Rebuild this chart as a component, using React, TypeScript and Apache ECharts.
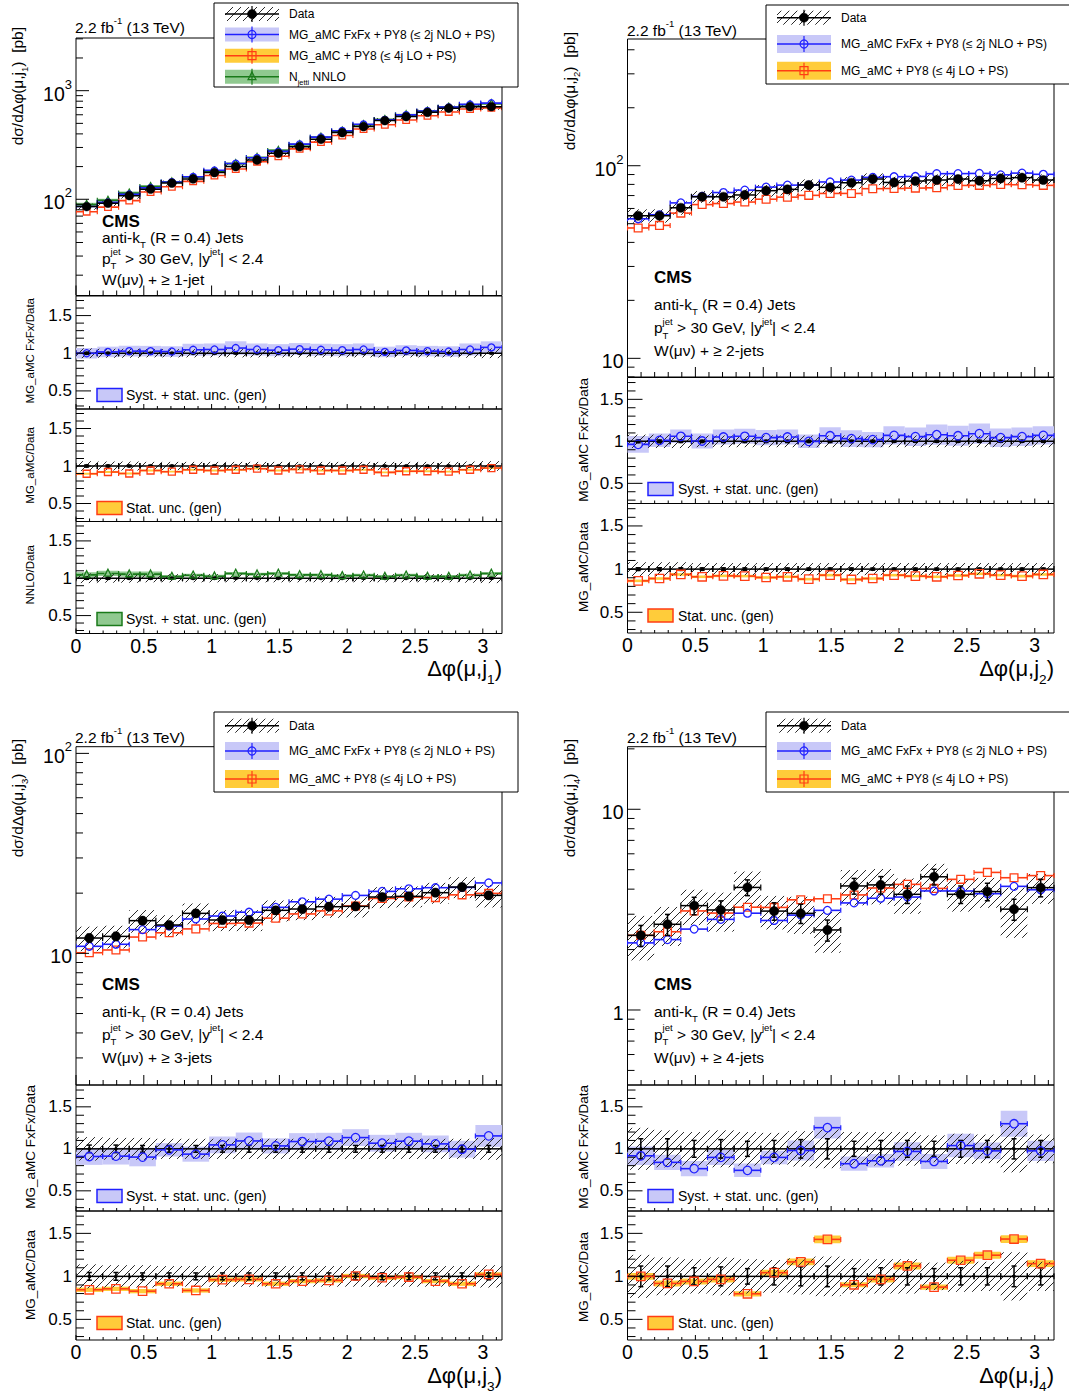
import React, { useEffect, useRef } from 'react';
import * as echarts from 'echarts';

const FONT = '"Liberation Sans", Arial, Helvetica, sans-serif';
const PI = Math.PI;

// ===== Δφ(μ,j1), W(μν) + ≥ 1-jet : 20 bins on [0, π] =====
const j1Data = [85.7, 92, 108, 124, 141, 154, 176, 200, 230, 265, 305, 357, 411, 467, 530, 577, 632, 689, 713, 713];
const j1DataStat = [0.012, 0.012, 0.011, 0.01, 0.01, 0.009, 0.009, 0.008, 0.008, 0.008, 0.007, 0.007, 0.007, 0.006, 0.006, 0.006, 0.006, 0.006, 0.006, 0.006];
const j1DataUnc = [0.065, 0.06, 0.06, 0.055, 0.055, 0.055, 0.055, 0.055, 0.055, 0.055, 0.055, 0.055, 0.055, 0.055, 0.055, 0.055, 0.055, 0.055, 0.06, 0.065];
const j1FxFxRatio = [1.0, 1.018, 1.028, 1.028, 1.023, 1.046, 1.05, 1.069, 1.05, 1.041, 1.055, 1.046, 1.041, 1.05, 1.018, 1.037, 1.028, 1.023, 1.05, 1.078];
const j1FxFxUnc = [0.07, 0.07, 0.07, 0.07, 0.07, 0.08, 0.08, 0.09, 0.08, 0.08, 0.08, 0.08, 0.08, 0.08, 0.07, 0.07, 0.07, 0.07, 0.08, 0.08];
const j1MgRatio = [0.897, 0.92, 0.9, 0.94, 0.924, 0.95, 0.94, 0.95, 0.964, 0.94, 0.955, 0.94, 0.94, 0.95, 0.915, 0.93, 0.93, 0.924, 0.95, 0.973];
const j1MgUnc = [0.012, 0.012, 0.012, 0.012, 0.012, 0.012, 0.012, 0.012, 0.012, 0.012, 0.012, 0.012, 0.012, 0.012, 0.012, 0.012, 0.012, 0.012, 0.012, 0.012];
const j1NnloRatio = [1.045, 1.064, 1.055, 1.055, 1.023, 1.04, 1.027, 1.064, 1.055, 1.064, 1.045, 1.045, 1.032, 1.04, 1.023, 1.04, 1.023, 1.023, 1.04, 1.064];
const j1NnloUnc = [0.035, 0.035, 0.035, 0.035, 0.02, 0.02, 0.02, 0.02, 0.02, 0.02, 0.02, 0.02, 0.02, 0.02, 0.02, 0.02, 0.02, 0.02, 0.02, 0.02];

// ===== Δφ(μ,j2), W(μν) + ≥ 2-jets : 20 bins =====
const j2Data = [55.0, 55.0, 60.5, 69.0, 69.0, 70.5, 74.2, 75.4, 79.4, 77.2, 81.6, 85.3, 81.9, 83.3, 84.3, 85.3, 83.6, 85.9, 86.7, 84.3];
const j2DataStat = [0.016, 0.016, 0.015, 0.014, 0.014, 0.014, 0.013, 0.013, 0.013, 0.013, 0.013, 0.012, 0.012, 0.012, 0.012, 0.012, 0.012, 0.012, 0.012, 0.012];
const j2DataUnc = [0.08, 0.08, 0.08, 0.07, 0.07, 0.07, 0.07, 0.07, 0.07, 0.07, 0.07, 0.07, 0.07, 0.07, 0.07, 0.07, 0.07, 0.07, 0.07, 0.07];
const j2FxFxRatio = [0.964, 1.012, 1.06, 1.004, 1.052, 1.06, 1.044, 1.052, 1.0, 1.067, 1.032, 1.02, 1.071, 1.056, 1.079, 1.067, 1.091, 1.044, 1.056, 1.071];
const j2FxFxUnc = [0.1, 0.08, 0.08, 0.09, 0.09, 0.09, 0.09, 0.09, 0.08, 0.1, 0.1, 0.09, 0.11, 0.11, 0.12, 0.12, 0.12, 0.11, 0.11, 0.11];
const j2MgRatio = [0.864, 0.891, 0.938, 0.911, 0.922, 0.919, 0.903, 0.911, 0.884, 0.93, 0.88, 0.891, 0.93, 0.919, 0.911, 0.926, 0.946, 0.93, 0.919, 0.938];
const j2MgUnc = [0.015, 0.015, 0.015, 0.015, 0.015, 0.015, 0.015, 0.015, 0.015, 0.015, 0.015, 0.015, 0.015, 0.015, 0.015, 0.015, 0.015, 0.015, 0.015, 0.015];

// ===== Δφ(μ,j3), W(μν) + ≥ 3-jets : 16 bins =====
const j3Data = [11.93, 12.16, 14.57, 13.86, 15.85, 14.68, 14.68, 16.41, 16.66, 17.11, 17.18, 19.13, 19.28, 20.11, 21.46, 19.5];
const j3DataStat = [0.045, 0.045, 0.04, 0.04, 0.04, 0.04, 0.04, 0.04, 0.04, 0.04, 0.04, 0.04, 0.04, 0.04, 0.04, 0.04];
const j3DataUnc = [0.14, 0.13, 0.13, 0.12, 0.12, 0.12, 0.12, 0.12, 0.12, 0.12, 0.12, 0.12, 0.12, 0.12, 0.12, 0.13];
const j3FxFxRatio = [0.909, 0.913, 0.902, 0.988, 0.937, 1.047, 1.094, 1.035, 1.087, 1.091, 1.134, 1.067, 1.091, 1.059, 0.996, 1.154];
const j3FxFxUnc = [0.1, 0.1, 0.11, 0.08, 0.09, 0.1, 0.1, 0.09, 0.1, 0.1, 0.1, 0.1, 0.1, 0.1, 0.1, 0.13];
const j3MgRatio = [0.844, 0.855, 0.828, 0.914, 0.836, 0.961, 0.965, 0.914, 0.945, 0.953, 1.004, 0.984, 0.992, 0.945, 0.914, 1.023];
const j3MgUnc = [0.025, 0.025, 0.025, 0.025, 0.025, 0.025, 0.025, 0.025, 0.025, 0.025, 0.025, 0.025, 0.025, 0.025, 0.025, 0.025];

// ===== Δφ(μ,j4), W(μν) + ≥ 4-jets : 16 bins =====
const j4Data = [2.355, 2.673, 3.311, 3.15, 4.08, 3.11, 3.03, 2.505, 4.15, 4.2, 3.77, 4.61, 3.77, 3.89, 3.18, 4.07];
const j4DataStat = [0.12, 0.12, 0.1, 0.11, 0.09, 0.1, 0.11, 0.12, 0.09, 0.1, 0.1, 0.09, 0.1, 0.1, 0.12, 0.1];
const j4DataUnc = [0.25, 0.22, 0.2, 0.22, 0.2, 0.19, 0.21, 0.23, 0.2, 0.2, 0.2, 0.16, 0.18, 0.17, 0.28, 0.17];
const j4FxFxRatio = [0.917, 0.839, 0.764, 0.898, 0.744, 0.898, 0.98, 1.252, 0.823, 0.858, 0.969, 0.85, 1.039, 0.976, 1.299, 0.976];
const j4FxFxUnc = [0.11, 0.09, 0.09, 0.09, 0.08, 0.08, 0.12, 0.13, 0.085, 0.08, 0.11, 0.09, 0.14, 0.1, 0.155, 0.12];
const j4MgRatio = [1.0, 0.918, 0.941, 0.965, 0.797, 1.043, 1.168, 1.43, 0.902, 0.965, 1.121, 0.875, 1.1875, 1.246, 1.434, 1.148];
const j4MgUnc = [0.04, 0.035, 0.035, 0.035, 0.03, 0.035, 0.04, 0.045, 0.03, 0.035, 0.04, 0.03, 0.04, 0.04, 0.045, 0.04];

const X_LABELS = [0, 0.5, 1, 1.5, 2, 2.5, 3];
const R_LABELS = [0.5, 1, 1.5];
const R_MIN = 0.26;
const R_MAX = 1.76;

const COL = {
  fxLine: '#2020ff', fxBand: '#c8c8f8',
  mgLine: '#ff3d14', mgBand: '#ffcc3a',
  nnLine: '#1a7a1a', nnBand: '#90c990',
  hatch: '#2a2a2a',
};

const FX = { line: COL.fxLine, band: COL.fxBand, shape: 'circle', title: 'MG_aMC FxFx/Data', leg: 'Syst. + stat. unc. (gen)' };
const MG = { line: COL.mgLine, band: COL.mgBand, shape: 'square', title: 'MG_aMC/Data', leg: 'Stat. unc. (gen)' };
const NN = { line: COL.nnLine, band: COL.nnBand, shape: 'triangle', title: 'NNLO/Data', leg: 'Syst. + stat. unc. (gen)' };

const QUADS: any[] = [
  {
    idx: '1', njet: '≥ 1-jet', left: 76, right: 502,
    panels: [[38, 295.5], [296, 409], [409, 521.5], [521.5, 633.5]],
    yMin: 13.0, yMax: 3055,
    data: j1Data, stat: j1DataStat, unc: j1DataUnc,
    preds: [{ ...FX, ratio: j1FxFxRatio, unc: j1FxFxUnc }, { ...MG, ratio: j1MgRatio, unc: j1MgUnc }, { ...NN, ratio: j1NnloRatio, unc: j1NnloUnc }],
    mainBand: [2],
    lumi: { x: 75, y: 27 }, cms: { x: 102, ys: [221.5, 237, 258, 279] },
    legend: { x0: 214, x1: 518, y0: 3, y1: 87, ys: [14, 34.5, 55.7, 76.7], bh: 14, sx0: 225, sx1: 279, tx: 289 },
    yTitle: { x: 17, top: 27 }, rTitles: [{ x: 30, top: 298 }, { x: 30, top: 427 }, { x: 30, top: 545 }], rTitleSize: 11.5,
    rLeg: { sx: 97, tx: 126, ys: [395, 508, 619] },
    xTitleY: 668.5, mR: 3.3, dR: 4.4, rR: 3.5,
  },
  {
    idx: '2', njet: '≥ 2-jets', left: 627.5, right: 1054,
    panels: [[39, 377], [377.5, 503.5], [503.5, 633]],
    yMin: 8.0, yMax: 455,
    data: j2Data, stat: j2DataStat, unc: j2DataUnc,
    preds: [{ ...FX, ratio: j2FxFxRatio, unc: j2FxFxUnc }, { ...MG, ratio: j2MgRatio, unc: j2MgUnc }],
    mainBand: [],
    lumi: { x: 627, y: 30 }, cms: { x: 654, ys: [277, 304, 327.5, 350] },
    legend: { x0: 766, x1: 1080, y0: 5, y1: 84, ys: [17.7, 44, 70.7], bh: 18, sx0: 777, sx1: 831, tx: 841 },
    yTitle: { x: 569, top: 32 }, rTitles: [{ x: 583, top: 378 }, { x: 583, top: 522 }], rTitleSize: 13.5,
    rLeg: { sx: 648, tx: 678, ys: [489, 615.5] },
    xTitleY: 668.5, mR: 3.9, dR: 4.6, rR: 4.2,
  },
  {
    idx: '3', njet: '≥ 3-jets', left: 76, right: 502,
    panels: [[746.7, 1085], [1085, 1211], [1211, 1340]],
    yMin: 2.196, yMax: 108,
    data: j3Data, stat: j3DataStat, unc: j3DataUnc,
    preds: [{ ...FX, ratio: j3FxFxRatio, unc: j3FxFxUnc }, { ...MG, ratio: j3MgRatio, unc: j3MgUnc }],
    mainBand: [],
    lumi: { x: 75, y: 737 }, cms: { x: 102, ys: [984.5, 1011, 1034, 1057] },
    legend: { x0: 214, x1: 518, y0: 712, y1: 792, ys: [725.7, 751, 779], bh: 18, sx0: 225, sx1: 279, tx: 289 },
    yTitle: { x: 17, top: 739 }, rTitles: [{ x: 30, top: 1085 }, { x: 30, top: 1230 }], rTitleSize: 13.5,
    rLeg: { sx: 97, tx: 126, ys: [1196, 1323] },
    xTitleY: 1375, mR: 3.9, dR: 4.6, rR: 4.2,
  },
  {
    idx: '4', njet: '≥ 4-jets', left: 627.5, right: 1054,
    panels: [[746.7, 1085], [1085, 1211], [1211, 1340]],
    yMin: 0.423, yMax: 20.5,
    data: j4Data, stat: j4DataStat, unc: j4DataUnc,
    preds: [{ ...FX, ratio: j4FxFxRatio, unc: j4FxFxUnc }, { ...MG, ratio: j4MgRatio, unc: j4MgUnc }],
    mainBand: [],
    lumi: { x: 627, y: 737 }, cms: { x: 654, ys: [984.5, 1011, 1034, 1057] },
    legend: { x0: 766, x1: 1080, y0: 712, y1: 792, ys: [725.7, 751, 779], bh: 18, sx0: 777, sx1: 831, tx: 841 },
    yTitle: { x: 569, top: 739 }, rTitles: [{ x: 583, top: 1085 }, { x: 583, top: 1232 }], rTitleSize: 13.5,
    rLeg: { sx: 648, tx: 678, ys: [1196, 1323] },
    xTitleY: 1375, mR: 3.9, dR: 4.6, rR: 4.2,
  },
];

// ---------- text helpers ----------
let measureCtx: any = null;
function tw(s: string, size: number, bold = false): number {
  if (!measureCtx) measureCtx = document.createElement('canvas').getContext('2d');
  measureCtx.font = `${bold ? 'bold ' : ''}${size}px ${FONT}`;
  return measureCtx.measureText(s).width;
}
function textEl(s: string, x: number, y: number, size: number, bold: boolean, color: string, z = 40) {
  return {
    type: 'text', x, y, z, silent: true,
    style: {
      text: s, fontSize: size, fontFamily: FONT, fontWeight: bold ? 'bold' : 'normal', fill: color,
      align: 'left', verticalAlign: 'middle', textAlign: 'left', textVerticalAlign: 'middle',
    },
  };
}
function richGroup(parts: any[], size: number, x: number, y: number, anchor: 'start' | 'end' = 'start', rotate = false, color = '#000') {
  const small = size * 0.62;
  const children: any[] = [];
  let cx = 0;
  for (const p of parts) {
    if (p.t !== undefined) {
      children.push(textEl(p.t, cx, 0, size, !!p.bold, color));
      cx += tw(p.t, size, !!p.bold);
    } else {
      let w = 0;
      if (p.sup) { children.push(textEl(p.sup, cx, -size * 0.4, small, false, color)); w = Math.max(w, tw(p.sup, small)); }
      if (p.sub) { children.push(textEl(p.sub, cx, size * 0.5, small, false, color)); w = Math.max(w, tw(p.sub, small)); }
      cx += w;
    }
  }
  if (anchor === 'end') children.forEach((c) => { c.x -= cx; });
  return { type: 'group', x, y, rotation: rotate ? PI / 2 : 0, z: 40, children };
}

// ---------- drawing helpers ----------
const LN = (x1: number, y1: number, x2: number, y2: number, stroke: string, lw = 1, z?: number) => {
  const o: any = { type: 'line', shape: { x1, y1, x2, y2 }, style: { stroke, lineWidth: lw } };
  if (z !== undefined) o.z = z;
  return o;
};
function hatchLines(x0: number, y0: number, x1: number, y1: number, color: string, z?: number) {
  const out: any[] = [];
  const step = 8;
  const ya = Math.min(y0, y1), yb = Math.max(y0, y1);
  const xa0 = Math.min(x0, x1), xb0 = Math.max(x0, x1);
  for (let c = Math.ceil((xa0 + ya) / step) * step; c <= xb0 + yb; c += step) {
    const xa = Math.max(xa0, c - yb);
    const xb = Math.min(xb0, c - ya);
    if (xb - xa > 0.3) out.push(LN(xa, c - xa, xb, c - xb, color, 1, z));
  }
  return out;
}
function markerEl(shape: string, cx: number, cy: number, r: number, color: string, lw: number, z?: number) {
  let o: any;
  if (shape === 'circle') o = { type: 'circle', shape: { cx, cy, r }, style: { fill: 'none', stroke: color, lineWidth: lw } };
  else if (shape === 'square') o = { type: 'rect', shape: { x: cx - r, y: cy - r, width: 2 * r, height: 2 * r }, style: { fill: 'none', stroke: color, lineWidth: lw } };
  else if (shape === 'triangle') o = { type: 'polygon', shape: { points: [[cx, cy - r * 1.2], [cx + r, cy + r * 0.75], [cx - r, cy + r * 0.75]] }, style: { fill: 'none', stroke: color, lineWidth: lw } };
  else o = { type: 'circle', shape: { cx, cy, r }, style: { fill: color, stroke: color, lineWidth: 0.5 } };
  if (z !== undefined) o.z = z;
  return o;
}

const base = (gi: number, z: number) => ({
  type: 'custom', coordinateSystem: 'cartesian2d', xAxisIndex: gi, yAxisIndex: gi, silent: true, z, animation: false,
});

function rectSeries(gi: number, items: number[][], fill: string, z: number) {
  return {
    ...base(gi, z), clip: true, encode: { x: [0, 1], y: [2, 3] }, data: items,
    renderItem: (_p: any, api: any) => {
      const a = api.coord([api.value(0), api.value(3)]);
      const b = api.coord([api.value(1), api.value(2)]);
      return { type: 'rect', shape: { x: a[0], y: a[1], width: b[0] - a[0], height: b[1] - a[1] }, style: { fill } };
    },
  };
}
function hatchSeries(gi: number, items: number[][], z: number) {
  return {
    ...base(gi, z), clip: true, encode: { x: [0, 1], y: [2, 3] }, data: items,
    renderItem: (_p: any, api: any) => {
      const a = api.coord([api.value(0), api.value(3)]);
      const b = api.coord([api.value(1), api.value(2)]);
      return { type: 'group', children: hatchLines(a[0], a[1], b[0], b[1], COL.hatch) };
    },
  };
}
function mcSeries(gi: number, items: number[][], color: string, shape: string, r: number, z: number) {
  return {
    ...base(gi, z), clip: true, encode: { x: [0, 1], y: 2 }, data: items,
    renderItem: (_p: any, api: any) => {
      const p0 = api.coord([api.value(0), api.value(2)]);
      const p1 = api.coord([api.value(1), api.value(2)]);
      const cx = (p0[0] + p1[0]) / 2, cy = p0[1];
      const lw = 1.6;
      return {
        type: 'group',
        children: [
          LN(p0[0], cy, cx - r, cy, color, lw),
          LN(cx + r, cy, p1[0], cy, color, lw),
          LN(p0[0], cy - 2.5, p0[0], cy + 2.5, color, 1.2),
          LN(p1[0], cy - 2.5, p1[0], cy + 2.5, color, 1.2),
          markerEl(shape, cx, cy, r, color, 1.3),
        ],
      };
    },
  };
}
function dataSeries(gi: number, items: number[][], r: number, z: number, lw = 1.5) {
  return {
    ...base(gi, z), clip: true, encode: { x: [0, 1], y: [2, 3, 4] }, data: items,
    renderItem: (_p: any, api: any) => {
      const xlo = api.value(0), xhi = api.value(1), xc = (xlo + xhi) / 2;
      const p0 = api.coord([xlo, api.value(2)]);
      const p1 = api.coord([xhi, api.value(2)]);
      const e0 = api.coord([xc, api.value(3)]);
      const e1 = api.coord([xc, api.value(4)]);
      const cy = p0[1];
      return {
        type: 'group',
        children: [
          LN(p0[0], cy, p1[0], cy, '#000', lw),
          LN(p0[0], cy - 3, p0[0], cy + 3, '#000', 1.2),
          LN(p1[0], cy - 3, p1[0], cy + 3, '#000', 1.2),
          LN(e0[0], e0[1], e1[0], e1[1], '#000', 1.5),
          LN(e0[0] - 2.5, e0[1], e0[0] + 2.5, e0[1], '#000', 1.5),
          LN(e1[0] - 2.5, e1[1], e1[0] + 2.5, e1[1], '#000', 1.5),
          markerEl('dot', e0[0], cy, r, '#000', 1),
        ],
      };
    },
  };
}
function tickSeries(gi: number, items: number[][], yBase: number, z: number) {
  return {
    ...base(gi, z), clip: false, encode: { x: 0, y: 1 }, data: items,
    renderItem: (_p: any, api: any) => {
      const v = api.value(0), len = api.value(1), kind = api.value(2);
      if (kind === 1) {
        const p = api.coord([v, yBase]);
        return LN(p[0], p[1], p[0], p[1] - len, '#000', 1);
      }
      const p = api.coord([0, v]);
      return LN(p[0], p[1], p[0] + len, p[1], '#000', 1);
    },
  };
}

function binEdges(n: number) {
  const e: number[] = [];
  for (let i = 0; i <= n; i++) e.push((i * PI) / n);
  return e;
}
function xTicks(maj: number, min: number) {
  const out: number[][] = [];
  for (let k = 0; k <= 31; k++) out.push([k / 10, k % 5 === 0 ? maj : min, 1]);
  return out;
}
function logTicks(lo: number, hi: number, maj: number, min: number) {
  const out: number[][] = [];
  for (let d = Math.floor(Math.log10(lo)); d <= Math.ceil(Math.log10(hi)); d++) {
    for (let m = 1; m <= 9; m++) {
      const v = m * Math.pow(10, d);
      if (v >= lo && v <= hi) out.push([v, m === 1 ? maj : min, 2]);
    }
  }
  return out;
}
function ratioTicks(maj: number, min: number) {
  const out: number[][] = [];
  for (let k = 3; k <= 17; k++) out.push([k / 10, k % 5 === 0 ? maj : min, 2]);
  return out;
}

const fmtLog = (v: number) => {
  const e = Math.round(Math.log10(v));
  if (Math.abs(v / Math.pow(10, e) - 1) > 1e-6) return '';
  if (e === 0) return '{a|1}';
  if (e === 1) return '{a|10}';
  return `{a|10}{b|${e}}`;
};
const fmtX = (v: number) => {
  if (Math.abs(v * 2 - Math.round(v * 2)) > 1e-6) return '';
  return String(Math.round(v * 10) / 10);
};
const fmtR = (v: number) => {
  if (Math.abs(v * 2 - Math.round(v * 2)) > 1e-6) return '';
  return String(Math.round(v * 10) / 10);
};

function buildOption() {
  const grid: any[] = [], xAxis: any[] = [], yAxis: any[] = [], series: any[] = [], graphic: any[] = [];

  QUADS.forEach((q) => {
    const n = q.data.length;
    const e = binEdges(n);
    q.panels.forEach((pn: number[], pi: number) => {
      const gi = grid.length;
      const isMain = pi === 0;
      const isBottom = pi === q.panels.length - 1;
      grid.push({
        left: q.left, top: pn[0], width: q.right - q.left, height: pn[1] - pn[0],
        show: true, borderColor: '#000', borderWidth: 1, backgroundColor: 'transparent',
        containLabel: false, outerBoundsMode: 'none',
      });
      xAxis.push({
        type: 'value', gridIndex: gi, min: 0, max: PI,
        axisLine: { show: false }, axisTick: { show: false }, splitLine: { show: false },
        axisLabel: isBottom
          ? { show: true, customValues: X_LABELS, formatter: fmtX, fontSize: 19.5, lineHeight: 18, fontFamily: FONT, color: '#000', margin: 3 }
          : { show: false },
      });
      if (isMain) {
        yAxis.push({
          type: 'log', logBase: 10, gridIndex: gi, min: q.yMin, max: q.yMax,
          axisLine: { show: false }, axisTick: { show: false }, splitLine: { show: false },
          minorTick: { show: false }, minorSplitLine: { show: false },
          axisLabel: {
            formatter: fmtLog, margin: 4, color: '#000', fontFamily: FONT,
            rich: {
              a: { fontSize: 19.5, fontFamily: FONT, color: '#000', lineHeight: 26, verticalAlign: 'bottom' },
              b: { fontSize: 13, fontFamily: FONT, color: '#000', lineHeight: 13, verticalAlign: 'top' },
            },
          },
        });
        q.mainBand.forEach((k: number) => {
          const p = q.preds[k];
          series.push(rectSeries(gi, q.data.map((d: number, i: number) => [e[i], e[i + 1], d * p.ratio[i] * (1 - p.unc[i]), d * p.ratio[i] * (1 + p.unc[i])]), p.band, 2));
        });
        series.push(hatchSeries(gi, q.data.map((d: number, i: number) => [e[i], e[i + 1], d * (1 - q.unc[i]), d * (1 + q.unc[i])]), 3));
        for (let k = q.preds.length - 1; k >= 0; k--) {
          const p = q.preds[k];
          series.push(mcSeries(gi, q.data.map((d: number, i: number) => [e[i], e[i + 1], d * p.ratio[i]]), p.line, p.shape, q.mR, 5 + (q.preds.length - k)));
        }
        series.push(dataSeries(gi, q.data.map((d: number, i: number) => [e[i], e[i + 1], d, d * (1 - q.stat[i]), d * (1 + q.stat[i])]), q.dR, 10));
        series.push(tickSeries(gi, [...xTicks(10, 5), ...logTicks(q.yMin, q.yMax, 13, 7)], q.yMin, 11));
      } else {
        yAxis.push({
          type: 'value', gridIndex: gi, min: R_MIN, max: R_MAX,
          axisLine: { show: false }, axisTick: { show: false }, splitLine: { show: false },
          axisLabel: { customValues: R_LABELS, formatter: fmtR, fontSize: 17, fontFamily: FONT, color: '#000', margin: 4 },
        });
        const p = q.preds[pi - 1];
        series.push(rectSeries(gi, p.ratio.map((r: number, i: number) => [e[i], e[i + 1], r - p.unc[i], r + p.unc[i]]), p.band, 2));
        series.push(hatchSeries(gi, q.unc.map((u: number, i: number) => [e[i], e[i + 1], 1 - u, 1 + u]), 3));
        series.push(dataSeries(gi, q.stat.map((s: number, i: number) => [e[i], e[i + 1], 1, 1 - s, 1 + s]), 1.6, 4, 1.5));
        series.push(mcSeries(gi, p.ratio.map((r: number, i: number) => [e[i], e[i + 1], r]), p.line, p.shape, q.rR, 5));
        series.push(tickSeries(gi, [...xTicks(5, 3), ...ratioTicks(15, 8)], R_MIN, 11));

        const ly = q.rLeg.ys[pi - 1];
        graphic.push({ type: 'rect', z: 30, shape: { x: q.rLeg.sx, y: ly - 6.5, width: 25, height: 13 }, style: { fill: p.band, stroke: p.line, lineWidth: 1.5 } });
        graphic.push(textEl(p.leg, q.rLeg.tx, ly, 14, false, '#000', 30));
        const rt = q.rTitles[pi - 1];
        graphic.push(richGroup([{ t: p.title }], q.rTitleSize, rt.x, rt.top, 'end', true));
      }
    });

    graphic.push(richGroup([{ t: 'dσ/dΔφ(μ,j' }, { sub: q.idx }, { t: ')  [pb]' }], 15.5, q.yTitle.x, q.yTitle.top, 'end', true));
    graphic.push(richGroup([{ t: 'Δφ(μ,j' }, { sub: q.idx }, { t: ')' }], 22, q.right, q.xTitleY, 'end'));
    graphic.push(richGroup([{ t: '2.2 fb' }, { sup: '-1' }, { t: ' (13 TeV)' }], 15.5, q.lumi.x, q.lumi.y));
    graphic.push(richGroup([{ t: 'CMS', bold: true }], 17, q.cms.x, q.cms.ys[0]));
    graphic.push(richGroup([{ t: 'anti-k' }, { sub: 'T' }, { t: ' (R = 0.4) Jets' }], 15.5, q.cms.x, q.cms.ys[1]));
    graphic.push(richGroup([{ t: 'p' }, { sup: 'jet', sub: 'T' }, { t: ' > 30 GeV, |y' }, { sup: 'jet' }, { t: '| < 2.4' }], 15.5, q.cms.x, q.cms.ys[2]));
    graphic.push(richGroup([{ t: `W(μν) + ${q.njet}` }], 15.5, q.cms.x, q.cms.ys[3]));

    const L = q.legend;
    graphic.push({ type: 'rect', z: 20, shape: { x: L.x0, y: L.y0, width: L.x1 - L.x0, height: L.y1 - L.y0 }, style: { fill: '#fff', stroke: '#000', lineWidth: 1 } });
    const xm = (L.sx0 + L.sx1) / 2;
    const entries: any[] = [{ kind: 'data' }, ...q.preds.map((p: any) => ({ kind: 'mc', p }))];
    const texts: any[] = [
      [{ t: 'Data' }],
      [{ t: 'MG_aMC FxFx + PY8 (≤ 2j NLO + PS)' }],
      [{ t: 'MG_aMC + PY8 (≤ 4j LO + PS)' }],
      [{ t: 'N' }, { sub: 'jetti' }, { t: ' NNLO' }],
    ];
    entries.forEach((en, i) => {
      const y = L.ys[i];
      if (en.kind === 'data') {
        graphic.push(...hatchLines(L.sx0, y - 7, L.sx1, y + 7, COL.hatch, 21));
        graphic.push(LN(L.sx0, y, L.sx1, y, '#000', 1.5, 22));
        graphic.push(LN(xm, y - 8, xm, y + 8, '#000', 1.2, 22));
        graphic.push(markerEl('dot', xm, y, 4.5, '#000', 1, 23));
      } else {
        const p = en.p;
        graphic.push({ type: 'rect', z: 21, shape: { x: L.sx0, y: y - L.bh / 2, width: L.sx1 - L.sx0, height: L.bh }, style: { fill: p.band } });
        graphic.push(LN(L.sx0, y, L.sx1, y, p.line, 1.5, 22));
        graphic.push(LN(xm, y - 8, xm, y + 8, p.line, 1.2, 22));
        graphic.push(markerEl(p.shape, xm, y, 4, p.line, 1.2, 23));
      }
      graphic.push(richGroup(texts[i], 12, L.tx, y));
    });
  });

  return {
    animation: false,
    backgroundColor: '#fff',
    textStyle: { fontFamily: FONT },
    grid, xAxis, yAxis, series, graphic,
  };
}

export default function App() {
  const ref = useRef<HTMLDivElement>(null);
  useEffect(() => {
    const chart = echarts.init(ref.current as HTMLDivElement, null, { renderer: 'svg', width: 1069, height: 1393 });
    chart.setOption(buildOption() as any);
    return () => chart.dispose();
  }, []);
  return <div ref={ref} style={{ position: 'fixed', left: 0, top: 0, width: 1069, height: 1393, background: '#fff' }} />;
}
